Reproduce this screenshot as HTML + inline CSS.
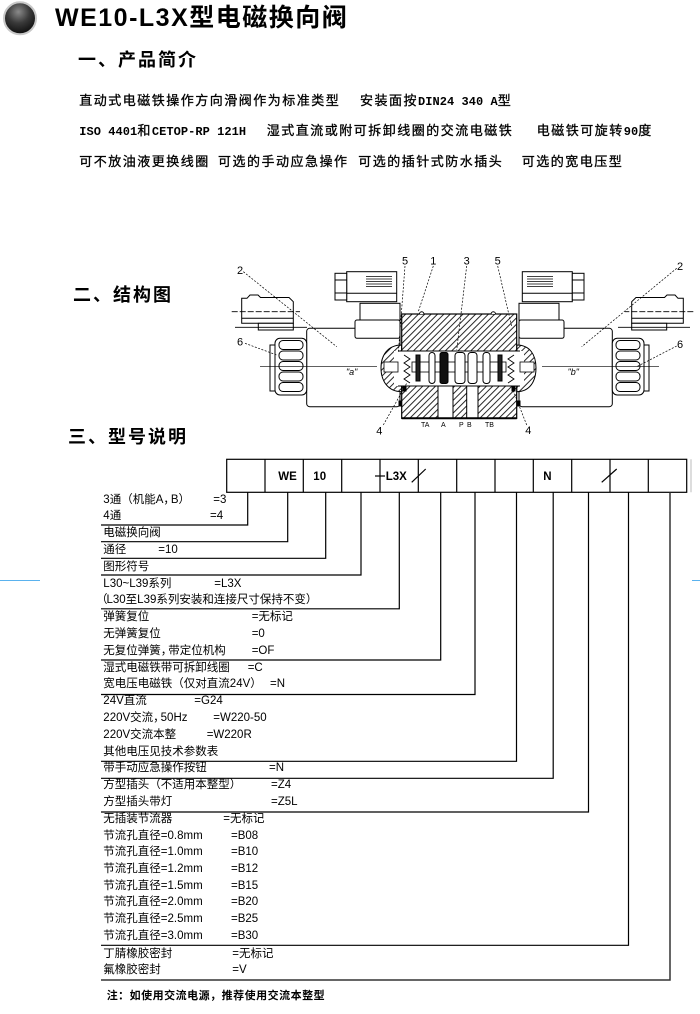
<!DOCTYPE html>
<html><head><meta charset="utf-8">
<style>
html,body{margin:0;padding:0;background:#fff;}
body{width:700px;height:1014px;position:relative;overflow:hidden;color:#000;}
.a{position:absolute;white-space:pre;}
.t{font-family:"Liberation Sans","Noto Sans CJK SC",sans-serif;font-weight:bold;font-size:25px;line-height:25px;letter-spacing:1.5px;}
.h{font-family:"Noto Sans CJK SC",sans-serif;font-weight:bold;font-size:18px;line-height:18px;letter-spacing:2px;}
.b{font-family:"Noto Sans CJK SC",sans-serif;font-size:13px;line-height:13px;letter-spacing:1.5px;-webkit-text-stroke:0.3px #000;}
.m{font-family:"Liberation Mono",monospace;font-size:12px;letter-spacing:0.05px;font-weight:bold;-webkit-text-stroke:0;}
.l{font-family:"Liberation Sans","Noto Sans CJK SC",sans-serif;font-size:11.5px;line-height:11.5px;}
.n{font-family:"Noto Sans CJK SC",sans-serif;font-weight:bold;font-size:11px;line-height:11px;letter-spacing:0.5px;}
.c{letter-spacing:-4px;}
</style></head><body>

<svg class="a" style="left:0;top:0" width="700" height="1014" viewBox="0 0 700 1014">
<defs>
 <pattern id="hat" width="4.5" height="4.5" patternUnits="userSpaceOnUse" patternTransform="rotate(45)">
  <rect width="4.5" height="4.5" fill="#fff"/>
  <line x1="0.5" y1="0" x2="0.5" y2="4.5" stroke="#111" stroke-width="0.9"/>
 </pattern>
 <radialGradient id="ball" cx="45%" cy="30%" r="70%">
  <stop offset="0" stop-color="#8a8a8a"/><stop offset="0.5" stop-color="#3a3a3a"/><stop offset="1" stop-color="#0e0e0e"/>
 </radialGradient>
</defs>

<circle cx="20" cy="18.3" r="16" fill="url(#ball)" stroke="#c8c8c8" stroke-width="2"/>

<g stroke="#000" stroke-width="1" fill="#fff">
 <g id="sideL">
  <rect x="306.7" y="328.3" width="93.3" height="78.4" rx="3"/>
  <rect x="270" y="345" width="5" height="46"/>
  <rect x="275" y="338.3" width="31.7" height="56.7" rx="5"/>
  <rect x="279" y="340.5" width="24" height="9" rx="4"/>
  <rect x="279" y="351" width="24" height="9" rx="4"/>
  <rect x="279" y="361.5" width="24" height="9" rx="4"/>
  <rect x="279" y="372" width="24" height="9" rx="4"/>
  <rect x="279" y="382.5" width="24" height="9" rx="4"/>
  <rect x="360" y="303.3" width="40" height="17"/>
  <rect x="355" y="320" width="45" height="18.3" rx="2"/>
  <rect x="346.7" y="271.7" width="50" height="30"/>
  <rect x="335" y="273.3" width="11.7" height="26.7"/>
  <line x1="335" y1="280" x2="346.7" y2="280"/>
  <line x1="335" y1="293" x2="346.7" y2="293"/>
  <line x1="346.7" y1="293.3" x2="396.7" y2="293.3"/>
  <g stroke-width="0.8">
   <line x1="366" y1="276.5" x2="392" y2="276.5"/>
   <line x1="366" y1="279" x2="392" y2="279"/>
   <line x1="366" y1="281.5" x2="392" y2="281.5"/>
   <line x1="366" y1="284" x2="392" y2="284"/>
   <line x1="366" y1="286.5" x2="392" y2="286.5"/>
  </g>
  <line x1="260" y1="366.7" x2="377" y2="366.7" stroke-width="0.6"/>
  <rect x="399" y="401" width="3" height="5" fill="#000"/>
 </g>
 <use href="#sideL" transform="translate(919,0) scale(-1,1)"/>

 <g id="conn">
  <path d="M241.7 298.3 H247 L250 295 H258 L260.5 297.5 H289 L293.3 301.7 V323.3 H241.7 Z"/>
  <rect x="258.3" y="323.3" width="35" height="6.7"/>
  <line x1="241.7" y1="318.3" x2="293.3" y2="318.3"/>
  <line x1="231.7" y1="311.7" x2="300" y2="311.7" stroke-width="0.8" stroke-dasharray="6,2"/>
  <line x1="235" y1="327.3" x2="307" y2="327.3" stroke-width="0.8"/>
 </g>
 <use href="#conn" transform="translate(925,0) scale(-1,1)"/>

 <path d="M401.7 345 C388 345 381 355 381 368 C381 381 388 391.7 401.7 391.7 Z" fill="url(#hat)"/>
 <path d="M516.7 345 C530 345 536 355 536 368 C536 381 530 391.7 516.7 391.7 Z" fill="url(#hat)"/>
 <rect x="401.7" y="314" width="115" height="104.3" fill="url(#hat)" stroke-width="1.2"/>
 <rect x="394" y="351" width="130" height="35" stroke="none"/>
 <line x1="398" y1="351" x2="520" y2="351"/>
 <line x1="398" y1="386" x2="520" y2="386"/>
 <rect x="438" y="386" width="15" height="32.3"/>
 <rect x="466.7" y="386" width="11.3" height="32.3"/>
 <rect x="412" y="362" width="94" height="10" stroke-width="0.8"/>
 <rect x="429" y="352.5" width="6" height="31" rx="3"/>
 <rect x="440" y="352.5" width="8" height="31" rx="2" fill="#111"/>
 <rect x="455" y="352.5" width="10" height="31" rx="3"/>
 <rect x="468" y="352.5" width="9" height="31" rx="3"/>
 <rect x="483" y="352.5" width="7" height="31" rx="3"/>
 <path d="M404 355 L410 359 L404 363 L410 367 L404 371 L410 375 L404 379 L410 383" fill="none" stroke-width="0.9"/>
 <path d="M514 355 L508 359 L514 363 L508 367 L514 371 L508 375 L514 379 L508 383" fill="none" stroke-width="0.9"/>
 <rect x="416" y="355" width="4" height="26" fill="#222"/>
 <rect x="498" y="355" width="4" height="26" fill="#222"/>
 <rect x="384" y="362" width="14" height="10" stroke-width="0.8"/>
 <rect x="520" y="362" width="14" height="10" stroke-width="0.8"/>
 <line x1="401.7" y1="418.3" x2="516.7" y2="418.3" stroke-width="2"/>
 <path d="M419.5 314 a2.2 2.2 0 0 1 4.4 0"/>
 <path d="M491.1 314 a2.2 2.2 0 0 1 4.4 0"/>
 <rect x="403" y="387" width="3" height="4" fill="#000"/>
 <rect x="512" y="387" width="3" height="4" fill="#000"/>
</g>

<g stroke="#000" stroke-width="0.7" stroke-dasharray="2,1.5" fill="none">
 <line x1="243.3" y1="271.7" x2="336.7" y2="346.7"/>
 <line x1="245" y1="343.3" x2="276.7" y2="355"/>
 <line x1="405" y1="266" x2="398.3" y2="353"/>
 <line x1="433.3" y1="266" x2="418.3" y2="311.7"/>
 <line x1="466.7" y1="266" x2="456.7" y2="350"/>
 <line x1="497.7" y1="266" x2="511.7" y2="326.7"/>
 <line x1="676.7" y1="268.3" x2="581.7" y2="346.7"/>
 <line x1="676.7" y1="346" x2="636.7" y2="366.7"/>
 <line x1="383.3" y1="425" x2="406.7" y2="383.3"/>
 <line x1="526.7" y1="425" x2="511.7" y2="386.7"/>
</g>
<g font-family="Liberation Sans, sans-serif" font-size="11" fill="#000" text-anchor="middle">
 <text x="240" y="274">2</text>
 <text x="405" y="264.7">5</text>
 <text x="433.3" y="264.7">1</text>
 <text x="466.7" y="264.7">3</text>
 <text x="497.7" y="264.7">5</text>
 <text x="680" y="270">2</text>
 <text x="240" y="345.7">6</text>
 <text x="680" y="348">6</text>
 <text x="379.3" y="434.7">4</text>
 <text x="528.3" y="434">4</text>
 <text x="351.7" y="375" font-size="9" font-style="italic">"a"</text>
 <text x="573.3" y="375" font-size="9" font-style="italic">"b"</text>
</g>
<g font-family="Liberation Sans, sans-serif" font-size="7" fill="#000">
 <text x="421" y="427">TA</text>
 <text x="441" y="427">A</text>
 <text x="459" y="427">P</text>
 <text x="467" y="427">B</text>
 <text x="485" y="427">TB</text>
</g>

<g stroke="#000" stroke-width="1.2" fill="none">
 <rect x="226.7" y="459.3" width="460" height="33"/>
 <line x1="265" y1="459.3" x2="265" y2="492.3"/>
 <line x1="303.3" y1="459.3" x2="303.3" y2="492.3"/>
 <line x1="341.7" y1="459.3" x2="341.7" y2="492.3"/>
 <line x1="380" y1="459.3" x2="380" y2="492.3"/>
 <line x1="418.3" y1="459.3" x2="418.3" y2="492.3"/>
 <line x1="456.7" y1="459.3" x2="456.7" y2="492.3"/>
 <line x1="495" y1="459.3" x2="495" y2="492.3"/>
 <line x1="533.3" y1="459.3" x2="533.3" y2="492.3"/>
 <line x1="571.7" y1="459.3" x2="571.7" y2="492.3"/>
 <line x1="610" y1="459.3" x2="610" y2="492.3"/>
 <line x1="648.3" y1="459.3" x2="648.3" y2="492.3"/>
 <line x1="375" y1="476" x2="385" y2="476"/>
 <line x1="411.7" y1="482.3" x2="425.7" y2="469"/>
 <line x1="601.7" y1="482.3" x2="616.7" y2="469"/>
 <path d="M101 525 H247.7 V492.3"/>
 <path d="M101 541.7 H287.7 V492.3"/>
 <path d="M101 558.3 H325.7 V492.3"/>
 <path d="M101 575 H361 V492.3"/>
 <path d="M101 608.8 H399.3 V492.3"/>
 <path d="M101 660 H440.7 V492.3"/>
 <path d="M101 694.5 H475 V492.3"/>
 <path d="M101 761.3 H516.5 V492.3"/>
 <path d="M101 778.3 H553.2 V492.3"/>
 <path d="M101 812 H588.5 V492.3"/>
 <path d="M101 945.3 H628.5 V492.3"/>
 <path d="M101 980 H670 V492.3" stroke="#333" stroke-width="1.5"/>
</g>
<line x1="691" y1="459.3" x2="691" y2="492.3" stroke="#bbb" stroke-width="1"/>
<g font-family="Liberation Sans, sans-serif" font-weight="bold" font-size="11.5" fill="#000">
 <text x="278.3" y="480">WE</text>
 <text x="313.3" y="480">10</text>
 <text x="385.7" y="480">L3X</text>
 <text x="543.3" y="480">N</text>
</g>
<line x1="0" y1="580.5" x2="40" y2="580.5" stroke="#5ab2ee" stroke-width="1"/>
<line x1="692" y1="580.5" x2="700" y2="580.5" stroke="#5ab2ee" stroke-width="1"/>
</svg>

<div class="a t" style="left:55px;top:6px;">WE10-L3X型电磁换向阀</div>
<div class="a h" style="left:78px;top:50px;">一、产品简介</div>
<div class="a h" style="left:73px;top:285px;">二、结构图</div>
<div class="a h" style="left:68px;top:426.5px;">三、型号说明</div>

<div class="a b" style="left:79.3px;top:92.8px;">直动式电磁铁操作方向滑阀作为标准类型</div>
<div class="a b" style="left:360px;top:92.8px;">安装面按<span class="m">DIN24 340 A</span>型</div>
<div class="a b" style="left:79.3px;top:123.3px;"><span class="m">ISO 4401</span>和<span class="m">CETOP-RP 121H</span></div>
<div class="a b" style="left:266.7px;top:123.3px;">湿式直流或附可拆卸线圈的交流电磁铁</div>
<div class="a b" style="left:536.7px;top:123.3px;">电磁铁可旋转<span class="m">90</span>度</div>
<div class="a b" style="left:79.3px;top:153.8px;">可不放油液更换线圈</div>
<div class="a b" style="left:218px;top:153.8px;">可选的手动应急操作</div>
<div class="a b" style="left:358.3px;top:153.8px;">可选的插针式防水插头</div>
<div class="a b" style="left:521.7px;top:153.8px;">可选的宽电压型</div>

<div class="a l" style="left:103.3px;top:494.5px;">3通（机能A<span class="c">，</span>B）</div>
<div class="a l" style="left:213.3px;top:494.5px;">=3</div>
<div class="a l" style="left:103.3px;top:511.3px;">4通</div>
<div class="a l" style="left:210px;top:511.3px;">=4</div>
<div class="a l" style="left:103.3px;top:528.1px;">电磁换向阀</div>
<div class="a l" style="left:103.3px;top:544.9px;">通径</div>
<div class="a l" style="left:158.3px;top:544.9px;">=10</div>
<div class="a l" style="left:103.3px;top:561.7px;">图形符号</div>
<div class="a l" style="left:103.3px;top:578.5px;">L30~L39系列</div>
<div class="a l" style="left:214.3px;top:578.5px;">=L3X</div>
<div class="a l" style="left:96px;top:595.3px;"><span style="letter-spacing:-1px">（</span>L30至L39系列安装和连接尺寸保持不变）</div>
<div class="a l" style="left:103.3px;top:612.1px;">弹簧复位</div>
<div class="a l" style="left:251.7px;top:612.1px;">=无标记</div>
<div class="a l" style="left:103.3px;top:628.9px;">无弹簧复位</div>
<div class="a l" style="left:251.7px;top:628.9px;">=0</div>
<div class="a l" style="left:103.3px;top:645.7px;">无复位弹簧<span class="c">，</span>带定位机构</div>
<div class="a l" style="left:251.7px;top:645.7px;">=OF</div>
<div class="a l" style="left:103.3px;top:662.5px;">湿式电磁铁带可拆卸线圈</div>
<div class="a l" style="left:247.7px;top:662.5px;">=C</div>
<div class="a l" style="left:103.3px;top:679.3px;">宽电压电磁铁（仅对直流24V）</div>
<div class="a l" style="left:270px;top:679.3px;">=N</div>
<div class="a l" style="left:103.3px;top:696.1px;">24V直流</div>
<div class="a l" style="left:194.3px;top:696.1px;">=G24</div>
<div class="a l" style="left:103.3px;top:712.9px;">220V交流<span class="c">，</span>50Hz</div>
<div class="a l" style="left:213.3px;top:712.9px;">=W220-50</div>
<div class="a l" style="left:103.3px;top:729.7px;">220V交流本整</div>
<div class="a l" style="left:206.7px;top:729.7px;">=W220R</div>
<div class="a l" style="left:103.3px;top:746.5px;">其他电压见技术参数表</div>
<div class="a l" style="left:103.3px;top:763.3px;">带手动应急操作按钮</div>
<div class="a l" style="left:269px;top:763.3px;">=N</div>
<div class="a l" style="left:103.3px;top:780.1px;">方型插头（不适用本整型）</div>
<div class="a l" style="left:271px;top:780.1px;">=Z4</div>
<div class="a l" style="left:103.3px;top:796.9px;">方型插头带灯</div>
<div class="a l" style="left:271px;top:796.9px;">=Z5L</div>
<div class="a l" style="left:103.3px;top:813.7px;">无插装节流器</div>
<div class="a l" style="left:223.3px;top:813.7px;">=无标记</div>
<div class="a l" style="left:103.3px;top:830.5px;">节流孔直径=0.8mm</div>
<div class="a l" style="left:231px;top:830.5px;">=B08</div>
<div class="a l" style="left:103.3px;top:847.3px;">节流孔直径=1.0mm</div>
<div class="a l" style="left:231px;top:847.3px;">=B10</div>
<div class="a l" style="left:103.3px;top:864.1px;">节流孔直径=1.2mm</div>
<div class="a l" style="left:231px;top:864.1px;">=B12</div>
<div class="a l" style="left:103.3px;top:880.9px;">节流孔直径=1.5mm</div>
<div class="a l" style="left:231px;top:880.9px;">=B15</div>
<div class="a l" style="left:103.3px;top:896.5px;">节流孔直径=2.0mm</div>
<div class="a l" style="left:231px;top:896.5px;">=B20</div>
<div class="a l" style="left:103.3px;top:913.5px;">节流孔直径=2.5mm</div>
<div class="a l" style="left:231px;top:913.5px;">=B25</div>
<div class="a l" style="left:103.3px;top:930.8px;">节流孔直径=3.0mm</div>
<div class="a l" style="left:231px;top:930.8px;">=B30</div>
<div class="a l" style="left:103.3px;top:948.6px;">丁腈橡胶密封</div>
<div class="a l" style="left:232.3px;top:948.6px;">=无标记</div>
<div class="a l" style="left:103.3px;top:964.6px;">氟橡胶密封</div>
<div class="a l" style="left:232.3px;top:964.6px;">=V</div>

<div class="a n" style="left:106.7px;top:989.9px;">注：如使用交流电源，推荐使用交流本整型</div>
</body></html>
